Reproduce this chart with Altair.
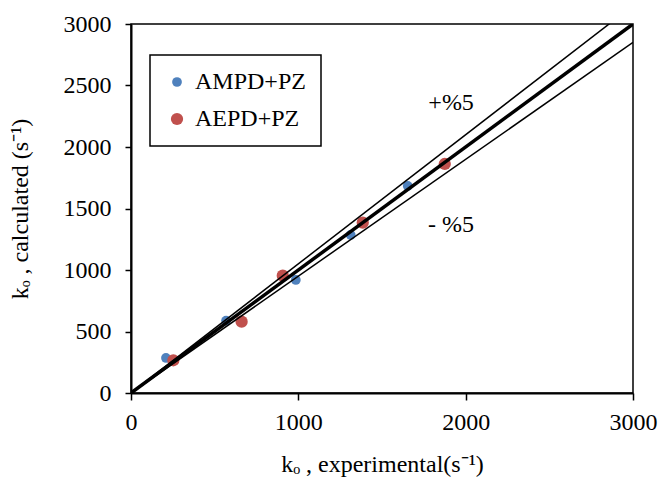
import altair as alt
import pandas as pd

# Data
ampd_x = [209, 568, 985, 1313, 1654]
ampd_y = [285, 588, 919, 1285, 1683]
aepd_x = [253, 661, 907, 1385, 1875]
aepd_y = [266, 580, 954, 1385, 1862]

series_names = ["AMPD+PZ", "AEPD+PZ"]
series_colors = ["#4F81BD", "#C0504D"]

line_factors = [1.0, 1.05, 0.95]
line_x_ends = [0, 3000]

ticks = [0, 500, 1000, 1500, 2000, 2500, 3000]
x_ticks = [0, 1000, 2000, 3000]

label_text = ["+%5", "- %5"]
label_x = [1913, 1913]
label_y = [2358, 1366]

FONT = "Liberation Serif"
FS = 24

pts = pd.DataFrame(
    {"x": ampd_x + aepd_x,
     "y": ampd_y + aepd_y,
     "series": [series_names[0]] * len(ampd_x) + [series_names[1]] * len(aepd_x)}
)

lines_rows = []
for f in line_factors:
    for xv in line_x_ends:
        lines_rows.append({"x": xv, "y": xv * f, "k": str(f), "w": 3.5 if f == 1.0 else 1.5})
lines = pd.DataFrame(lines_rows)

labels = pd.DataFrame({"x": label_x, "y": label_y, "t": label_text})

xscale = alt.Scale(domain=[0, 3000], nice=False, zero=False)
yscale = alt.Scale(domain=[0, 3000], nice=False, zero=False)

xaxis = alt.Axis(values=x_ticks, format="d", title="kₒ , experimental(s⁻¹)", grid=False,
                 domainColor="black", domainWidth=2, tickColor="black", tickWidth=1.5,
                 tickSize=7, labelFont=FONT, labelFontSize=FS, labelColor="black",
                 labelPadding=10, titleFont=FONT, titleFontSize=FS, titleFontWeight="normal",
                 titleColor="black", titlePadding=18, labelFlush=False)
yaxis = alt.Axis(values=ticks, format="d", title="kₒ , calculated (s⁻¹)", grid=False,
                 domainColor="black", domainWidth=2, tickColor="black", tickWidth=1.5,
                 tickSize=6, labelFont=FONT, labelFontSize=FS, labelColor="black",
                 labelPadding=14, titleFont=FONT, titleFontSize=FS, titleFontWeight="normal",
                 titleColor="black", titlePadding=31, labelFlush=False)

legend = alt.Legend(title=None, orient="none", legendX=19, legendY=31,
                    strokeColor="black", padding=15, fillColor="white",
                    labelFont=FONT, labelFontSize=FS, labelColor="black",
                    rowPadding=13, labelOffset=6, symbolStrokeWidth=0)

points = alt.Chart(pts).mark_point(filled=True, opacity=1, shape="circle").encode(
    x=alt.X("x:Q", scale=xscale, axis=xaxis),
    y=alt.Y("y:Q", scale=yscale, axis=yaxis),
    color=alt.Color("series:N", scale=alt.Scale(domain=series_names, range=series_colors), legend=legend),
    size=alt.Size("series:N", scale=alt.Scale(domain=series_names, range=[95, 150]), legend=legend),
)

line_layer = alt.Chart(lines).mark_line(color="black", clip=True).encode(
    x=alt.X("x:Q", scale=xscale),
    y=alt.Y("y:Q", scale=yscale),
    detail="k:N",
    strokeWidth=alt.StrokeWidth("w:Q", scale=None),
)

text_layer = alt.Chart(labels).mark_text(font=FONT, fontSize=FS, color="black", align="center",
                                         baseline="middle").encode(
    x=alt.X("x:Q", scale=xscale),
    y=alt.Y("y:Q", scale=yscale),
    text="t:N",
)

chart = alt.layer(points, line_layer, text_layer).properties(
    width=502, height=369,
    autosize=alt.AutoSizeParams(type="none"),
    padding={"left": 131, "top": 24, "right": 28, "bottom": 86},
    background="white",
).configure_view(stroke="black", strokeWidth=1.5).configure_legend(strokeWidth=1.5)

chart.save("out.html", embed_options={"renderer": "svg", "actions": False})
